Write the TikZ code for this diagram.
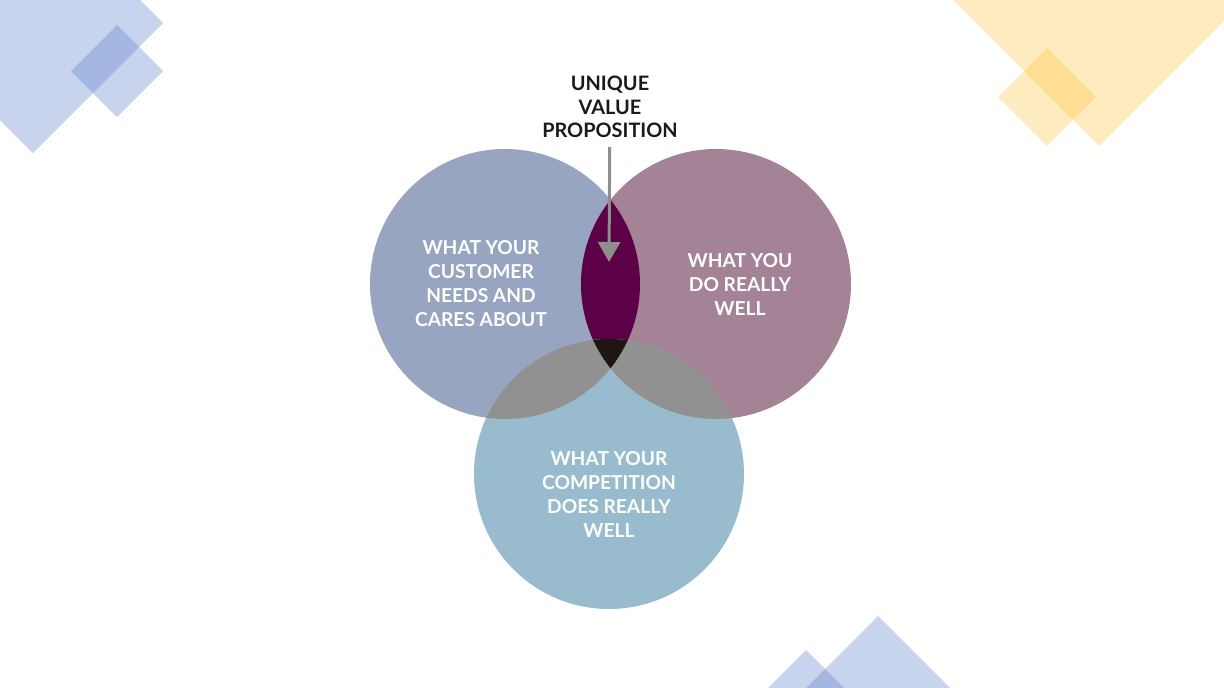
\documentclass[tikz,border=0pt]{standalone}
\usepackage{fontspec}
\setmainfont{Lato}
\usepackage{xcolor}
\usetikzlibrary{arrows.meta}

\definecolor{custblue}{RGB}{152,165,192}
\definecolor{wellmauve}{RGB}{164,131,151}
\definecolor{compblue}{RGB}{152,188,206}
\definecolor{uvpplum}{RGB}{92,0,71}
\definecolor{lensgray}{RGB}{145,145,145}
\definecolor{coredark}{RGB}{31,22,20}
\definecolor{decoblue}{RGB}{87,124,203}
\definecolor{decoyellow}{RGB}{255,188,45}
\definecolor{pointergray}{RGB}{142,142,142}
\definecolor{titleink}{RGB}{28,26,25}

\begin{document}
\begin{tikzpicture}[x=1pt,y=-1pt,
    venn/.style={circle, minimum size=270pt, inner sep=0pt},
    circtext/.style={text=white, align=center, font=\bfseries\fontsize{19.2}{24}\selectfont},
    title/.style={text=titleink, align=center, inner sep=0pt, font=\bfseries\fontsize{19.9}{23.5}\selectfont},
    pointer/.style={pointergray, line width=3pt, -{Triangle[length=20pt,width=22pt]}},
    bluedeco/.style={fill=decoblue, fill opacity=0.33},
    yellowdeco/.style={fill=decoyellow, fill opacity=0.3}]
    \useasboundingbox (0,0) rectangle (1224,688);
    % corner shapes
    \begin{scope}
        \clip (0,0) rectangle (1224,688);
        \foreach \cx/\cy/\h in {33/23/130, 117/71/46, 878/716/100, 806/696/46}
            \fill[bluedeco] (\cx,\cy) +(0,-\h) -- +(\h,0) -- +(0,\h) -- +(-\h,0) -- cycle;
        \foreach \cx/\cy/\h in {1099/-2/148, 1047/97/49}
            \fill[yellowdeco] (\cx,\cy) +(0,-\h) -- +(\h,0) -- +(0,\h) -- +(-\h,0) -- cycle;
    \end{scope}
    % the three circles
    \node[venn, fill=custblue] (cust) at (505,284) {};
    \node[venn, fill=wellmauve] (well) at (716,284) {};
    \node[venn, fill=compblue] (comp) at (609,474) {};
    % overlaps
    \begin{scope}
        \clip (cust.center) circle (135pt);
        \fill[uvpplum] (well.center) circle (135pt);
        \fill[lensgray] (comp.center) circle (135pt);
    \end{scope}
    \begin{scope}
        \clip (well.center) circle (135pt);
        \fill[lensgray] (comp.center) circle (135pt);
        \clip (comp.center) circle (135pt);
        \fill[coredark] (cust.center) circle (135pt);
    \end{scope}
    % labels
    \node[circtext] (custtext) at (481,284) {WHAT YOUR\\CUSTOMER\\NEEDS AND\\CARES ABOUT};
    \node[circtext] (welltext) at (740,284) {WHAT YOU\\DO REALLY\\WELL};
    \node[circtext] (comptext) at (609,494) {WHAT YOUR\\COMPETITION\\DOES REALLY\\WELL};
    \node[title] (uvp) at (610,107) {UNIQUE\\VALUE\\PROPOSITION};
    \coordinate (tip) at (609,262);
    \draw[pointer, shorten <=9pt] (uvp) -- (tip);
\end{tikzpicture}
\end{document}
